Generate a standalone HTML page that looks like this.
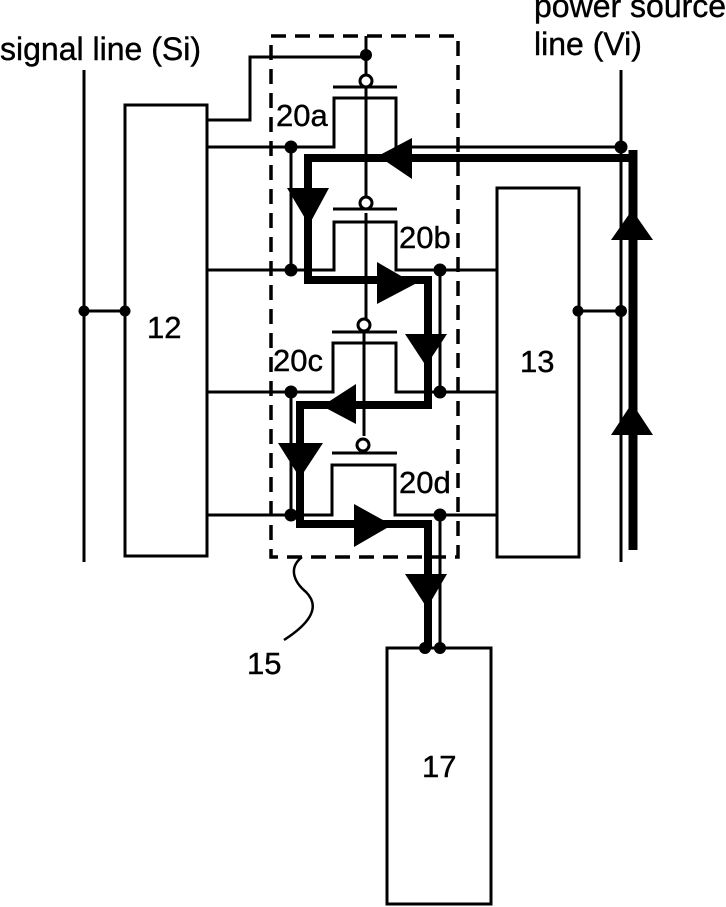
<!DOCTYPE html>
<html><head><meta charset="utf-8"><style>html,body{margin:0;padding:0;background:#fff}svg{display:block}text{font-family:"Liberation Sans",sans-serif;fill:#000;stroke:#000;stroke-width:.4}</style></head>
<body><svg width="726" height="907" viewBox="0 0 726 907" xmlns="http://www.w3.org/2000/svg">
<rect width="726" height="907" fill="#fff"/>
<g fill="none" stroke="#000" stroke-width="3">
<rect x="125" y="105" width="82" height="451"/>
<rect x="497" y="188" width="82" height="369"/>
<rect x="387" y="648" width="104" height="256"/>
<path d="M84 70V562M621 70V562M84 311H125M579 311H621"/>
<path d="M207 120H250V57H366M366 36V205M366 213V325M364 333V436" />
<path d="M207 147H334V98H396V155M396 147H621"/>
<path d="M207 270H334V222H396V270H498"/>
<path d="M207 392H333V343H396V392H498"/>
<path d="M207 515H332V465H395V515H498"/>
<path d="M291 147V270M291 392V515M440 270V392M440 515V648"/>
<path d="M333 87H397M333 209H397M332 332H397M332 453H397"/>
</g>
<rect x="271" y="36" width="187" height="521" fill="none" stroke="#000" stroke-width="3.5" stroke-dasharray="15 9"/>
<path d="M636 158H308V280H428V405H300V524H428V648" fill="none" stroke="#000" stroke-width="8"/>
<path d="M633 150V550" stroke="#000" stroke-width="9" fill="none"/>
<g fill="#000">
<path d="M412 138V179L378 156Z"/>
<path d="M287 188H329L309 225Z"/>
<path d="M377 262L415 284L377 304Z"/>
<path d="M405 334H447L426 366Z"/>
<path d="M356 384V424L322 406Z"/>
<path d="M278 443H323L300 478Z"/>
<path d="M354 504L392 525L354 547Z"/>
<path d="M405 574H447L427 608Z"/>
<path d="M632 210L653 240H611Z"/>
<path d="M632 403L653 435H611Z"/>
<circle cx="84" cy="311" r="5.5"/><circle cx="125" cy="311" r="5.5"/>
<circle cx="578" cy="311" r="5.5"/><circle cx="621" cy="311" r="6"/>
<circle cx="621" cy="147" r="6.5"/><circle cx="366" cy="55" r="6"/>
<circle cx="291" cy="147" r="6.5"/><circle cx="291" cy="270" r="6.5"/>
<circle cx="440" cy="270" r="6.5"/><circle cx="440" cy="392" r="6.5"/>
<circle cx="291" cy="392" r="6.5"/><circle cx="291" cy="515" r="6.5"/>
<circle cx="440" cy="515" r="6.5"/><circle cx="440" cy="648" r="6"/><circle cx="425" cy="648" r="6"/>
</g>
<g fill="#fff" stroke="#000" stroke-width="3">
<circle cx="366" cy="81" r="6"/><circle cx="366" cy="203" r="6"/>
<circle cx="364" cy="325" r="6"/><circle cx="363" cy="445" r="6"/>
</g>
<path d="M302 557C288 568 294 582 306 592C320 606 312 622 284 640" fill="none" stroke="#000" stroke-width="2.5"/>
<g font-size="32">
<text x="0" y="60">signal line (Si)</text>
<text x="534" y="17">power source</text>
<text x="534" y="55">line (Vi)</text>
</g>
<g font-size="31">
<text x="276" y="126">20a</text>
<text x="399" y="248">20b</text>
<text x="273" y="371">20c</text>
<text x="399" y="493">20d</text>
<text x="147" y="338">12</text>
<text x="520" y="372">13</text>
<text x="247" y="674">15</text>
<text x="422" y="777">17</text>
</g>
</svg></body></html>
